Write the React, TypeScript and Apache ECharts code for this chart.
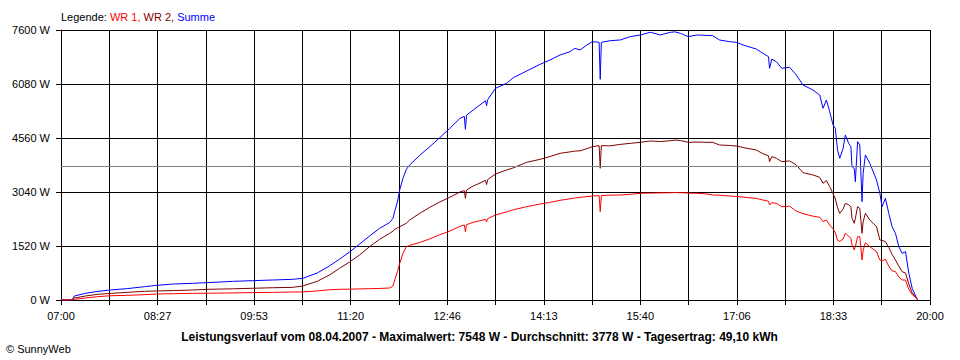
import React, { useEffect, useRef } from "react";
import * as echarts from "echarts";

const times = [
  "07:00", "07:10", "07:12", "07:22", "07:33", "07:44", "07:59", "08:15", "08:26", "08:41",
  "08:58", "09:11", "09:34", "09:52", "10:10", "10:28", "10:37", "10:50", "11:01", "11:10",
  "11:19", "11:28", "11:37", "11:46", "11:55", "11:58", "12:00", "12:02", "12:04", "12:07",
  "12:10", "12:13", "12:22", "12:31", "12:40", "12:49", "12:58", "13:02", "13:03", "13:04",
  "13:10", "13:16", "13:21", "13:22", "13:23", "13:30", "13:40", "13:46", "13:58", "14:10",
  "14:19", "14:28", "14:37", "14:41", "14:46", "14:52", "14:57", "15:03", "15:04", "15:05",
  "15:13", "15:22", "15:31", "15:40", "15:49", "15:58", "16:07", "16:11", "16:16", "16:23",
  "16:31", "16:38", "16:45", "16:51", "17:00", "17:06", "17:14", "17:24", "17:30", "17:35",
  "17:36", "17:38", "17:42", "17:47", "17:54", "18:00", "18:06", "18:15", "18:21", "18:24",
  "18:27", "18:30", "18:33", "18:35", "18:37", "18:39", "18:42", "18:44", "18:47", "18:49",
  "18:50", "18:52", "18:53", "18:55", "18:57", "18:59", "19:00", "19:02", "19:06", "19:12",
  "19:15", "19:17", "19:20", "19:23", "19:26", "19:29", "19:32", "19:35", "19:38", "19:41",
  "19:44", "19:48", "19:49",
];

const wr1 = [
  0, 0, 19, 56, 94, 120, 131, 150, 169, 178,
  188, 190, 200, 208, 215, 225, 228, 255, 290, 300,
  305, 312, 318, 325, 338, 394, 610, 797, 1032, 1314,
  1501, 1540, 1620, 1720, 1840, 1940, 2070, 2110, 1923, 2120,
  2187, 2230, 2270, 2200, 2290, 2393, 2480, 2540, 2627, 2700,
  2750, 2806, 2850, 2870, 2890, 2910, 2928, 2937, 2486, 2940,
  2950, 2956, 2975, 3003, 3010, 3015, 3021, 3025, 3020, 3010,
  3003, 2990, 2956, 2950, 2928, 2915, 2890, 2860, 2815, 2780,
  2674, 2740, 2721, 2627, 2640, 2500, 2430, 2360, 2328, 2205,
  2250, 2111, 2000, 1900, 1680, 1650, 1720, 1877, 1800, 1736,
  1550, 1408, 1500, 1783, 1783, 1126, 1400, 1614, 1501, 1360,
  1126, 1100, 1145, 950, 820, 797, 650, 563, 563, 300,
  150, 47, 0,
];

const wr2 = [
  0, 0, 56, 113, 160, 185, 215, 244, 255, 265,
  281, 300, 315, 330, 345, 356, 394, 526, 704, 892,
  1070, 1267, 1501, 1708, 1877, 1940, 2000, 2030, 2064, 2110,
  2160, 2252, 2440, 2609, 2759, 2891, 3040, 3080, 2862, 3097,
  3209, 3290, 3370, 3250, 3390, 3547, 3660, 3720, 3876, 3960,
  4040, 4129, 4170, 4190, 4200, 4260, 4316, 4344, 3707, 4344,
  4340, 4380, 4410, 4438, 4476, 4460, 4485, 4500, 4490, 4438,
  4445, 4440, 4438, 4363, 4350, 4335, 4280, 4223, 4120, 4060,
  3894, 4035, 3990, 3894, 3915, 3800, 3584, 3519, 3453, 3284,
  3360, 3190, 2990, 2850, 2600, 2440, 2560, 2721, 2680, 2627,
  2300, 2159, 2300, 2627, 2580, 1877, 2200, 2440, 2252, 2064,
  1689, 1680, 1642, 1480, 1280, 1126, 950, 797, 760, 450,
  200, 47, 0,
];

const summe = [
  0, 0, 112, 188, 244, 281, 319, 375, 413, 450,
  469, 488, 525, 544, 563, 582, 610, 760, 960, 1150,
  1350, 1576, 1802, 2018, 2180, 2300, 2550, 2760, 3097, 3430,
  3680, 3800, 4073, 4316, 4570, 4833, 5110, 5170, 4805, 5200,
  5349, 5489, 5610, 5470, 5640, 5959, 6099, 6258, 6446, 6634,
  6756, 6897, 6990, 7084, 7038, 7178, 7272, 7253, 6212, 7253,
  7300, 7319, 7413, 7460, 7535, 7460, 7535, 7548, 7506, 7413,
  7460, 7450, 7441, 7319, 7272, 7253, 7159, 7066, 6944, 6850,
  6522, 6780, 6709, 6522, 6550, 6334, 6052, 5911, 5771, 5396,
  5630, 5301, 4926, 4833, 4223, 3989, 4270, 4645, 4410, 4316,
  3753, 3700, 3331, 4457, 4363, 2768, 3566, 4082, 3848, 3378,
  3003, 2627, 2862, 2440, 2064, 1877, 1501, 1314, 1360, 751,
  329, 47, 0,
];

const xTickLabels = ["07:00", "08:27", "09:53", "11:20", "12:46", "14:13", "15:40", "17:06", "18:33", "20:00"];
const yMax = 7600;
const yStep = 1520;
const average = 3778;
const legendParts = ["Legende:", "WR 1,", "WR 2,", "Summe"];
const title = "Leistungsverlauf vom 08.04.2007 - Maximalwert: 7548 W - Durchschnitt: 3778 W - Tagesertrag: 49,10 kWh";
const copyright = "© SunnyWeb";

const FONT = "'Liberation Sans', Arial, sans-serif";
const START_MIN = 7 * 60;
const SPAN = 13 * 60;
const X_STEP = SPAN / 18;

const toMin = (t: string) => {
  const [h, m] = t.split(":").map(Number);
  return h * 60 + m - START_MIN;
};

const pairs = (vals: number[]) => times.map((t, i) => [toMin(t), vals[i]]);

export default function App() {
  const ref = useRef<HTMLDivElement>(null);
  useEffect(() => {
    if (!ref.current) return;
    const chart = echarts.init(ref.current, undefined, { renderer: "svg" });
    const lineSeries = (name: string, color: string, vals: number[], extra: any = {}) => ({
      name,
      type: "line",
      data: pairs(vals),
      showSymbol: false,
      symbol: "none",
      lineStyle: { color, width: 1 },
      itemStyle: { color },
      ...extra,
    });
    chart.setOption({
      animation: false,
      backgroundColor: "#ffffff",
      grid: { left: 61, right: 30, top: 30, bottom: 60, containLabel: false },
      xAxis: {
        type: "value",
        min: 0,
        max: SPAN,
        interval: X_STEP,
        axisLine: { show: true, lineStyle: { color: "#000", width: 1 } },
        axisTick: { show: true, length: 5, lineStyle: { color: "#000" } },
        splitLine: { show: true, lineStyle: { color: "#000", width: 1 } },
        axisLabel: {
          color: "#000",
          fontSize: 11,
          fontFamily: FONT,
          margin: 10,
          showMinLabel: true,
          showMaxLabel: true,
          formatter: (v: number) => {
            const k = Math.round(v / X_STEP);
            if (Math.abs(v - k * X_STEP) > 0.01 || k % 2 !== 0) return "";
            return xTickLabels[k / 2] ?? "";
          },
        },
      },
      yAxis: {
        type: "value",
        min: 0,
        max: yMax,
        interval: yStep,
        axisLine: { show: true, lineStyle: { color: "#000", width: 1 } },
        axisTick: { show: true, length: 5, lineStyle: { color: "#000" } },
        splitLine: { show: true, lineStyle: { color: "#000", width: 1 } },
        axisLabel: {
          color: "#000",
          fontSize: 11,
          fontFamily: FONT,
          margin: 11,
          formatter: (v: number) => `${v} W`,
        },
      },
      series: [
        lineSeries("Summe", "#0000ff", summe, {
          markLine: {
            silent: true,
            symbol: ["none", "none"],
            label: { show: false },
            lineStyle: { color: "#808080", type: "solid", width: 1 },
            data: [{ yAxis: average }],
          },
        }),
        lineSeries("WR 2", "#800000", wr2),
        lineSeries("WR 1", "#ff0000", wr1),
      ],
      graphic: [
        {
          type: "text",
          x: 61,
          y: 17,
          style: {
            text: `{k|${legendParts[0]}} {a|${legendParts[1]}} {b|${legendParts[2]}} {c|${legendParts[3]}}`,
            fontSize: 11,
            fontFamily: FONT,
            verticalAlign: "middle",
            rich: {
              k: { fill: "#000", fontSize: 11, fontFamily: FONT },
              a: { fill: "#ff0000", fontSize: 11, fontFamily: FONT },
              b: { fill: "#800000", fontSize: 11, fontFamily: FONT },
              c: { fill: "#0000ff", fontSize: 11, fontFamily: FONT },
            },
          },
        },
        {
          type: "text",
          x: 479.5,
          y: 337,
          style: {
            text: title,
            fill: "#000",
            fontSize: 12,
            fontWeight: "bold",
            fontFamily: FONT,
            align: "center",
            verticalAlign: "middle",
          },
        },
        {
          type: "text",
          x: 6,
          y: 349,
          style: {
            text: copyright,
            fill: "#000",
            fontSize: 11,
            fontFamily: FONT,
            align: "left",
            verticalAlign: "middle",
          },
        },
      ],
    });
    return () => chart.dispose();
  }, []);
  return (
    <div
      ref={ref}
      style={{ position: "absolute", left: 0, top: 0, width: 960, height: 360, background: "#fff" }}
    />
  );
}
